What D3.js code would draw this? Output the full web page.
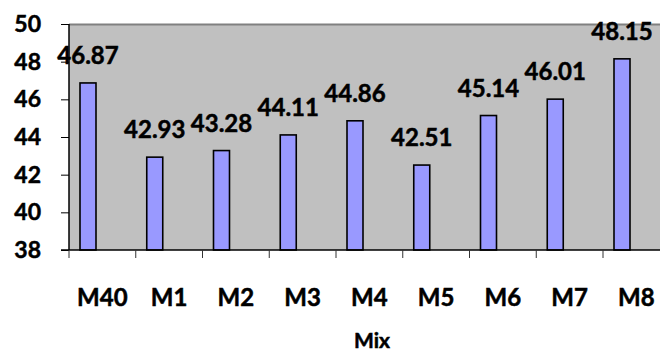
<!DOCTYPE html>
<html><head><meta charset="utf-8">
<script src="https://cdn.jsdelivr.net/npm/d3@7"></script>
<style>
html,body{margin:0;padding:0;background:#fff;}
svg{display:block;}
text{font-family:"Lato","Open Sans",sans-serif;font-weight:700;fill:#000;stroke:#000;stroke-width:0.5px;}
</style></head>
<body><svg id="c" width="660" height="354"></svg>
<script>
const categories = ["M40","M1","M2","M3","M4","M5","M6","M7","M8"];
const values = [46.87,42.93,43.28,44.11,44.86,42.51,45.14,46.01,48.15];
const yTicks = [38,40,42,44,46,48,50];
const xTitle = "Mix";

(function(){
const svg = d3.select("#c");
const mLeft = 69, mTop = 24, mBottom = 250, bandW = 66.75;
const x = d3.scaleBand().domain(categories).range([mLeft, mLeft + bandW*categories.length]).padding(0);
const y = d3.scaleLinear().domain([38,50]).range([mBottom, mTop]);

svg.append("rect").attr("x", mLeft).attr("y", mTop)
  .attr("width", x.range()[1]-mLeft).attr("height", mBottom-mTop)
  .attr("fill", "#c0c0c0");
svg.append("line").attr("x1", mLeft).attr("x2", x.range()[1]).attr("y1", mTop+0.5).attr("y2", mTop+0.5)
  .attr("stroke", "#808080").attr("stroke-width", 2);

const barOff = 11, barW = 16;
svg.selectAll("rect.bar").data(values).enter().append("rect")
  .attr("class","bar")
  .attr("x", (d,i)=> x(categories[i]) + barOff)
  .attr("y", d=> y(d))
  .attr("width", barW)
  .attr("height", d=> mBottom - y(d))
  .attr("fill", "#9999ff").attr("stroke", "#000").attr("stroke-width", 1.6);

svg.selectAll("text.lbl").data(values).enter().append("text")
  .attr("class","lbl")
  .attr("x", (d,i)=> x(categories[i]) + barOff + barW/2)
  .attr("y", d=> y(d) - 19)
  .attr("text-anchor","middle")
  .attr("font-size", 24)
  .text(d=> d.toFixed(2));

const yAxis = d3.axisLeft(y).tickValues(yTicks).tickSize(8).tickPadding(20).tickFormat(d3.format("d"));
const gy = svg.append("g").attr("transform", `translate(${mLeft},0)`).call(yAxis);
gy.select(".domain").attr("stroke","#000").attr("stroke-width",1.5).attr("d", `M0,${mTop}V${mBottom}`);
gy.selectAll(".tick line").attr("stroke","#000");
gy.selectAll(".tick text").attr("font-size", 23).attr("font-family",'"Lato","Open Sans",sans-serif').attr("font-weight",700).attr("fill","#000");

const gx = svg.append("g").attr("transform", `translate(0,${mBottom})`);
gx.append("line").attr("x1", mLeft-8).attr("x2", x.range()[1]).attr("y1",0).attr("y2",0).attr("stroke","#000").attr("stroke-width",1.5);
const bounds = categories.map(c=> x(c));
gx.selectAll("line.tk").data(bounds).enter().append("line").attr("class","tk")
  .attr("x1", d=>d).attr("x2", d=>d).attr("y1",0).attr("y2",8).attr("stroke","#333");
gx.selectAll("text.xl").data(categories).enter().append("text").attr("class","xl")
  .attr("x", d=> x(d) + x.bandwidth()/2).attr("y", 56).attr("text-anchor","middle")
  .attr("font-size", 24).text(d=>d);

svg.append("text").attr("x", 372).attr("y", 348).attr("text-anchor","middle")
  .attr("font-size", 21).text(xTitle);
})();
</script></body></html>
